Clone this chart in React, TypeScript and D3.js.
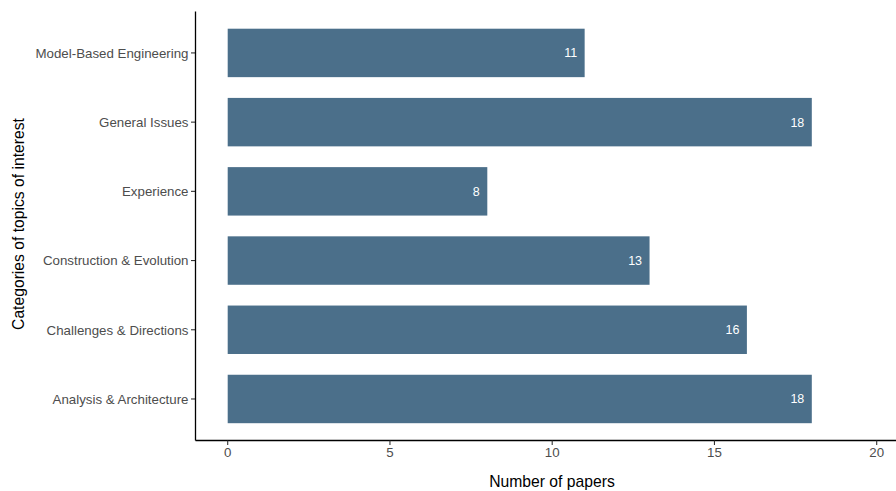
import React from "react";
import * as d3 from "d3";

const categories = [
  "Model-Based Engineering",
  "General Issues",
  "Experience",
  "Construction & Evolution",
  "Challenges & Directions",
  "Analysis & Architecture",
];
const values = [11, 18, 8, 13, 16, 18];
const xTicks = [0, 5, 10, 15, 20];

const W = 896;
const H = 491;
const FONT = "'Liberation Sans', Arial, Helvetica, sans-serif";

export default function App() {
  const panelLeft = 195.5;
  const panelTop = 11.4;
  const panelBottom = 440.5;
  const x = d3.scaleLinear().domain([0, 20]).range([227.7, 876.7]);
  // discrete scale with ggplot-like expansion of 0.6 units on each side
  const step = (panelBottom - panelTop) / (categories.length - 1 + 1.2);
  const y = d3
    .scalePoint<string>()
    .domain(categories)
    .range([panelTop + 0.6 * step, panelBottom - 0.6 * step]);
  const barH = step * 0.7;

  return (
    <svg width={W} height={H} style={{ position: "absolute", left: 0, top: 0, background: "#fff" }}>
      <rect width={W} height={H} fill="#fff" />
      {categories.map((c, i) => {
        const cy = y(c) as number;
        return (
          <g key={c}>
            <rect
              x={x(0)}
              y={cy - barH / 2}
              width={x(values[i]) - x(0)}
              height={barH}
              fill="#4b6f8a"
            />
            <text
              x={x(values[i]) - 7.5}
              y={cy}
              dy="0.36em"
              textAnchor="end"
              fill="#ffffff"
              fontFamily={FONT}
              fontSize={12.5}
            >
              {values[i]}
            </text>
            <line x1={panelLeft - 4.5} x2={panelLeft} y1={cy} y2={cy} stroke="#333" strokeWidth={1.1} />
            <text
              x={panelLeft - 7}
              y={cy}
              dy="0.36em"
              textAnchor="end"
              fill="#4d4d4d"
              fontFamily={FONT}
              fontSize={13.3}
            >
              {c}
            </text>
          </g>
        );
      })}
      <line x1={panelLeft} x2={panelLeft} y1={panelTop} y2={panelBottom} stroke="#000" strokeWidth={1.3} />
      <line x1={panelLeft} x2={W} y1={panelBottom} y2={panelBottom} stroke="#000" strokeWidth={1.3} />
      {xTicks.map((t) => (
        <g key={t}>
          <line x1={x(t)} x2={x(t)} y1={panelBottom} y2={panelBottom + 4.5} stroke="#333" strokeWidth={1.1} />
          <text
            x={x(t)}
            y={457}
            textAnchor="middle"
            fill="#4d4d4d"
            fontFamily={FONT}
            fontSize={13.3}
          >
            {t}
          </text>
        </g>
      ))}
      <text x={552} y={486.5} textAnchor="middle" fill="#000" fontFamily={FONT} fontSize={15.7}>
        Number of papers
      </text>
      <text
        transform={`translate(23.5, 224) rotate(-90)`}
        textAnchor="middle"
        fill="#000"
        fontFamily={FONT}
        fontSize={15.7}
      >
        Categories of topics of interest
      </text>
    </svg>
  );
}
